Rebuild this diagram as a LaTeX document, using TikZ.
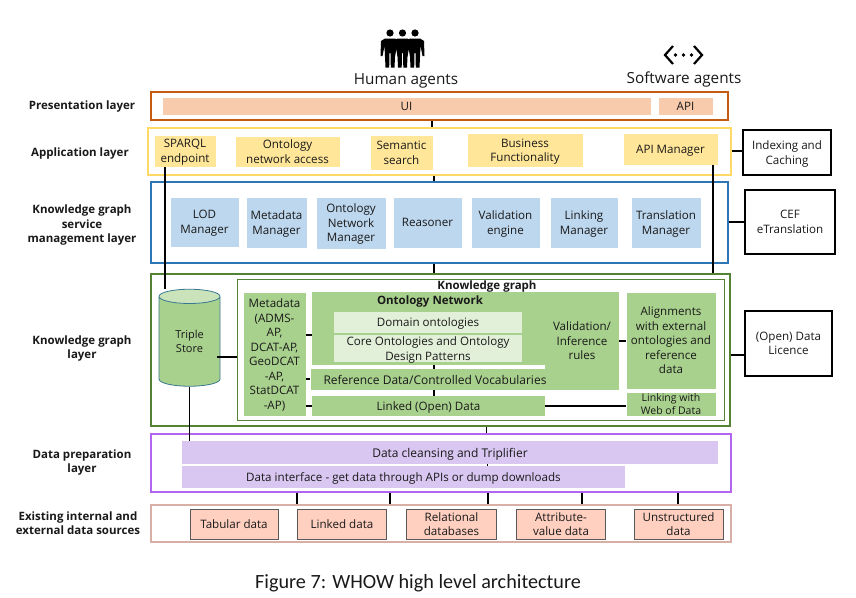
\documentclass[tikz,border=0pt]{standalone}
\usepackage{fontspec}
\usetikzlibrary{shapes.geometric}
\setmainfont{Open Sans}
\newfontfamily\capfont{Carlito}

\definecolor{presline}{HTML}{C55A11}
\definecolor{presfill}{HTML}{F8CBAD}
\definecolor{appline}{HTML}{FFD966}
\definecolor{appfill}{HTML}{FFE699}
\definecolor{srvline}{HTML}{2E75B6}
\definecolor{srvfill}{HTML}{BDD7EE}
\definecolor{kgline}{HTML}{548235}
\definecolor{kgfill}{HTML}{A9D18E}
\definecolor{kglight}{HTML}{E2F0D9}
\definecolor{prepline}{HTML}{B266F0}
\definecolor{prepfill}{HTML}{D9C7F2}
\definecolor{srcline}{HTML}{D8AFA5}
\definecolor{srcfill}{HTML}{FFCFC0}

\tikzset{
  every node/.style={inner sep=0pt,align=center,text depth=0pt,text=black!90,font=\fontsize{11.6}{14.5}\selectfont},
  layer/.style={draw=#1,line width=2.9pt},
  inbox/.style={fill=#1,draw=white,line width=.5pt},
  sidebox/.style={draw=black,line width=2.6pt,fill=white},
  srcbox/.style={fill=srcfill,draw=black!65,line width=1pt},
  layername/.style={font=\fontsize{11.5}{14.5}\selectfont\bfseries},
  agent/.style={font=\fontsize{15.3}{18}\selectfont},
  link/.style={line width=1.9pt,line cap=butt}
}

\begin{document}
\begin{tikzpicture}[x=1pt,y=-1pt]
  \useasboundingbox (0,0) rectangle (856,597);

  % layers
  \node[layer=presline,minimum width=577,minimum height=28] (pres) at (439.5,106) {};
  \node[layer=appline,minimum width=583,minimum height=47] (app) at (439.5,151.5) {};
  \node[layer=srvline,minimum width=577,minimum height=81] (srv) at (439.5,222.5) {};
  \node[layer=kgline,minimum width=579,minimum height=152] (kg) at (440.5,350) {};
  \node[layer=prepline,minimum width=580,minimum height=58] (prep) at (441,463) {};
  \node[layer=srcline,minimum width=580,minimum height=37] (src) at (441,523.5) {};

  % layer names
  \node[layername] (n1) at (82,105) {Presentation layer};
  \node[layername] (n2) at (80,152) {Application layer};
  \node[layername] (n3) at (82,224) {Knowledge graph\\service\\management layer};
  \node[layername] (n4) at (82,347) {Knowledge graph\\layer};
  \node[layername] (n5) at (82,461) {Data preparation\\layer};
  \node[layername] (n6) at (78,523) {Existing internal and\\external data sources};

  % agents
  \foreach \px in {390,402.5,415}
    \fill (\px,33) circle (3.6)
      (\px-5,38.5) -- (\px+5,38.5) -- (\px+9,41) -- (\px+9.5,56) -- (\px+7.5,56) -- (\px+5.5,46)
      -- (\px+4.5,67.5) -- (\px+.8,67.5) -- (\px+.5,53) -- (\px-.5,53) -- (\px-.8,67.5) -- (\px-4.5,67.5)
      -- (\px-5.5,46) -- (\px-7.5,56) -- (\px-9.5,56) -- (\px-9,41) -- cycle;
  \draw[line width=2.2pt] (673,46) -- (665,55) -- (673,64) (694,46) -- (702,55) -- (694,64);
  \foreach \px in {675.5,683.5,691.5}
    \fill (\px,55) circle (1.8);
  \node[agent] (human) at (406,79) {Human agents};
  \node[agent] (soft) at (684,78) {Software agents};

  % presentation
  \node[inbox=presfill,minimum width=489,minimum height=18] (ui) at (406.5,106) {UI};
  \node[inbox=presfill,minimum width=55,minimum height=18] (api) at (685.5,106) {API};

  % application
  \node[inbox=appfill,minimum width=62,minimum height=32] (sparql) at (185,151) {SPARQL\\endpoint};
  \node[inbox=appfill,minimum width=105,minimum height=31] (access) at (287.5,151.5) {Ontology\\network access};
  \node[inbox=appfill,minimum width=63,minimum height=35] (search) at (401.5,152.5) {Semantic\\search};
  \node[inbox=appfill,minimum width=116,minimum height=34] (business) at (525,150) {Business\\Functionality};
  \node[inbox=appfill,minimum width=95,minimum height=32] (apiman) at (670.5,149) {API Manager};

  % service management
  \node[inbox=srvfill,minimum width=69,minimum height=50] (lod) at (204.5,222) {LOD\\Manager};
  \node[inbox=srvfill,minimum width=61,minimum height=51] (meta) at (276.5,222.5) {Metadata\\Manager};
  \node[inbox=srvfill,minimum width=70,minimum height=52] (onet) at (351,223) {Ontology\\Network\\Manager};
  \node[inbox=srvfill,minimum width=69,minimum height=51] (reason) at (427.5,222.5) {Reasoner};
  \node[inbox=srvfill,minimum width=69,minimum height=51] (valid) at (505.5,222.5) {Validation\\engine};
  \node[inbox=srvfill,minimum width=68,minimum height=51] (linkm) at (584,222.5) {Linking\\Manager};
  \node[inbox=srvfill,minimum width=70,minimum height=51] (trans) at (666,222.5) {Translation\\Manager};

  % side boxes
  \node[sidebox,minimum width=88,minimum height=45] (index) at (787,152.5) {Indexing and\\Caching};
  \node[sidebox,minimum width=90,minimum height=64] (cef) at (790,222) {CEF\\eTranslation};
  \node[sidebox,minimum width=87,minimum height=65] (lic) at (788.5,343.5) {(Open) Data\\Licence};

  % knowledge graph
  \node[draw=kgline,fill=white,line width=1pt,minimum width=487,minimum height=141] (kgin) at (480.5,349.5) {};
  \node[font=\fontsize{11.5}{14}\selectfont\bfseries] (kgname) at (487,285) {Knowledge graph};
  \node[draw=srvline!70!kgline,cylinder,shape border rotate=90,aspect=.5,cylinder uses custom fill,
    cylinder body fill=kgfill,cylinder end fill=kgfill!60!white,line width=.8pt,
    minimum width=61,minimum height=97,font=\fontsize{11}{14.5}\selectfont] (store) at (189.5,341.5) {Triple\\Store};
  \node[inbox=kgfill,minimum width=63,minimum height=124] (metad) at (274.5,354) {Metadata\\(ADMS-\\AP,\\DCAT-AP,\\GeoDCAT\\-AP,\\StatDCAT\\-AP)};
  \node[fill=kgfill,minimum width=307,minimum height=73] (onto) at (465.5,328.5) {};
  \node[fill=kgfill,minimum width=74,minimum height=98] (rules) at (582,341) {Validation/\\Inference\\rules};
  \node[font=\fontsize{11.5}{14}\selectfont\bfseries] (ontoname) at (430,300.5) {Ontology Network};
  \node[fill=kglight,minimum width=188,minimum height=21] (domain) at (428,322.5) {Domain ontologies};
  \node[fill=kglight,minimum width=188,minimum height=27] (core) at (428,348.5) {Core Ontologies and Ontology\\Design Patterns};
  \node[fill=kgfill,minimum width=233,minimum height=21,font=\fontsize{12}{14.5}\selectfont] (refd) at (428.5,379.5) {\hspace*{13pt}Reference Data/Controlled Vocabularies};
  \node[fill=kgfill,minimum width=233,minimum height=20] (linked) at (428.5,406) {Linked (Open) Data};
  \node[inbox=kgfill,minimum width=90,minimum height=97] (align) at (671,340.5) {Alignments\\with external\\ontologies and\\reference\\data};
  \node[inbox=kgfill,minimum width=90,minimum height=24,font=\fontsize{10.5}{13}\selectfont] (web) at (671,404) {Linking with\\Web of Data};

  % data preparation
  \node[fill=prepfill,minimum width=536,minimum height=23,font=\fontsize{12}{14.5}\selectfont] (clean) at (450,452.5) {Data cleansing and Triplifier};
  \node[fill=prepfill,minimum width=443,minimum height=22] (iface) at (403.5,477) {Data interface - get data through APIs or dump downloads};

  % data sources
  \node[srcbox,minimum width=88,minimum height=30] (tab) at (234,524) {Tabular data};
  \node[srcbox,minimum width=89,minimum height=30] (lnk) at (342,524) {Linked data};
  \node[srcbox,minimum width=90,minimum height=30] (rel) at (451.5,524) {Relational\\databases};
  \node[srcbox,minimum width=89,minimum height=30] (att) at (561,524) {Attribute-\\value data};
  \node[srcbox,minimum width=89,minimum height=30] (uns) at (678.5,524) {Unstructured\\data};

  \node[font=\capfont\fontsize{20.2}{24}\selectfont] (cap) at (418,581) {Figure 7: WHOW high level architecture};

  % connectors between layers
  \foreach \from/\to/\px in {pres/app/432,app/srv/434,srv/kg/434,kg/prep/486.5,clean/iface/487.5,
      prep/src/297,prep/src/390,prep/src/488,prep/src/582,prep/src/678}
    \draw[link] (\from.south -| \px,0) -- (\to.north -| \px,0);

  % connectors to the side boxes
  \foreach \from/\to/\py in {app/index/151,srv/cef/222,kg/lic/355}
    \draw[link] (\from.east |- 0,\py) -- (\to.west |- 0,\py);

  % connectors in the knowledge graph
  \foreach \from/\to/\py in {metad/onto/335,metad/refd/379,metad/linked/406,rules/align/341,linked/web/406}
    \draw[link] (\from.east |- 0,\py) -- (\to.west |- 0,\py);
  \coordinate (storeout) at (217,357);
  \draw[link] (storeout) -- (kgin.west |- storeout);
  \draw[link] (onto.south -| 434,0) -- (refd.north -| 434,0);
  \draw[link] (refd.south -| 434,0) -- (linked.north -| 434,0);

  % long connectors
  \draw[link] (sparql.south -| 165,0) -- (store.north -| 165,0);
  \draw[link] (store.south) -- (clean.north -| store.south);
  \draw[link] (apiman.south -| 713,0) -- (kg.north -| 713,0);
\end{tikzpicture}
\end{document}
